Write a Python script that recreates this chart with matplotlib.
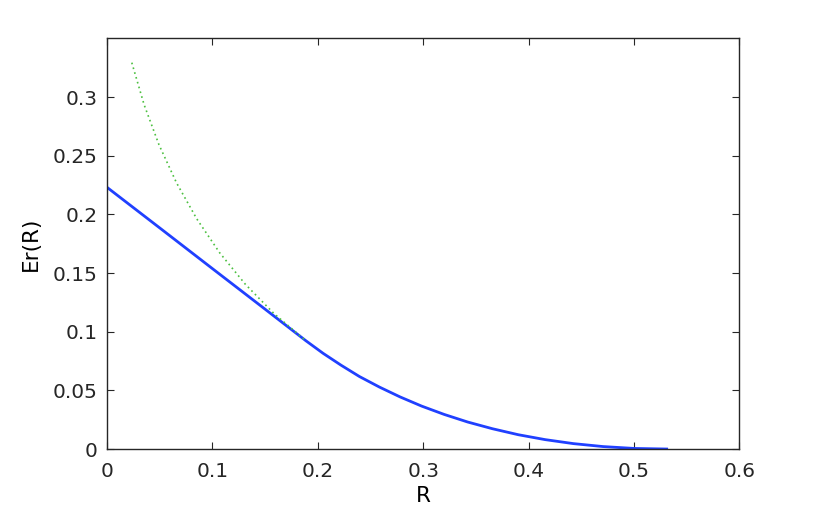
import numpy as np
import matplotlib
matplotlib.use("Agg")
import matplotlib.pyplot as plt

plt.rcParams['font.family'] = ['DejaVu Sans']

# random coding exponent (blue, solid)
r_blue = [0.0, 0.05, 0.10, 0.15, 0.1887, 0.2050, 0.2220, 0.2395, 0.2585, 0.2781,
          0.2985, 0.3199, 0.3423, 0.3657, 0.3902, 0.4158, 0.4426, 0.4706, 0.5001, 0.5310]
e_blue = [0.2231, 0.1885, 0.1538, 0.1192, 0.0923, 0.0816, 0.0715, 0.0618, 0.0528, 0.0444,
          0.0366, 0.0295, 0.0230, 0.0173, 0.0122, 0.0080, 0.0046, 0.0021, 0.0005, 0.0]

# sphere packing part above the critical rate (green, dotted)
r_green = [0.0235, 0.0352, 0.0493, 0.0659, 0.0851, 0.1068, 0.1313, 0.1585, 0.1887]
e_green = [0.3294, 0.2935, 0.2594, 0.2270, 0.1963, 0.1674, 0.1404, 0.1154, 0.0923]

xticks = [0, 0.1, 0.2, 0.3, 0.4, 0.5, 0.6]
xticklabels = ['0', '0.1', '0.2', '0.3', '0.4', '0.5', '0.6']
yticks = [0, 0.05, 0.1, 0.15, 0.2, 0.25, 0.3]
yticklabels = ['0', '0.05', '0.1', '0.15', '0.2', '0.25', '0.3']

fig = plt.figure(figsize=(8.17, 5.16), dpi=100)
ax = fig.add_axes([0.131, 0.1298, 0.774, 0.7956])

ax.plot(r_blue, e_blue, color='#2040ff', lw=2.0)
ax.plot(r_green, e_green, color='#4cc040', lw=1.2, ls=(0, (1, 2)))

ax.set_xlim(0, 0.6)
ax.set_ylim(0, 0.35)
ax.set_xticks(xticks)
ax.set_xticklabels(xticklabels)
ax.set_yticks(yticks)
ax.set_yticklabels(yticklabels)
ax.tick_params(direction='in', length=5, width=0.8, colors='#262626',
               labelsize=14.5, top=True, right=True)
ax.tick_params(axis='x', pad=9)
ax.tick_params(axis='y', pad=7)
for s in ax.spines.values():
    s.set_color('#262626')
    s.set_linewidth(1.0)

ax.set_xlabel('R', fontsize=15.5, labelpad=4)
ax.set_ylabel('Er(R)', fontsize=15.5, labelpad=8)

fig.savefig('out.png', dpi=100)
